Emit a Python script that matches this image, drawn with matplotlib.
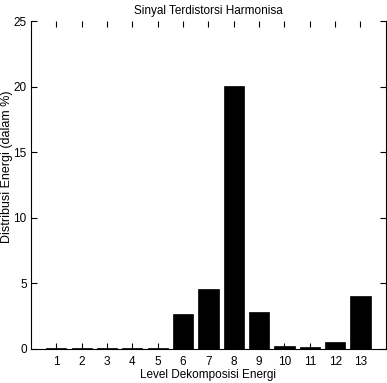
import matplotlib
matplotlib.use('Agg')
import matplotlib.pyplot as plt

# ── Data ────────────────────────────────────────────────────────────────────
levels = list(range(1, 14))
energy = [0.08, 0.08, 0.08, 0.08, 0.08, 2.68, 4.57, 20.05, 2.82,
          0.23, 0.11, 0.56, 4.05]

plt.rcParams['font.family'] = ['Liberation Sans', 'DejaVu Sans']

fig = plt.figure(figsize=(3.87, 3.83), dpi=100)
fig.patch.set_facecolor('white')
ax = fig.add_axes([0.080, 0.089, 0.917, 0.856])

ax.bar(levels, energy, width=0.8, color='black', edgecolor='black', linewidth=0.5)

ax.set_xlim(0, 14)
ax.set_ylim(0, 25)
ax.set_xticks(levels)
ax.set_yticks([0, 5, 10, 15, 20, 25])

ax.tick_params(direction='in', length=4, width=0.8, labelsize=8.5,
               top=True, right=True)
ax.tick_params(axis='x', pad=5)
ax.tick_params(axis='y', pad=3)
for side in ['left', 'right', 'bottom']:
    ax.spines[side].set_linewidth(0.8)
ax.spines['top'].set_visible(False)

ax.set_title('Sinyal Terdistorsi Harmonisa', fontsize=8.5, pad=5)
ax.set_xlabel('Level Dekomposisi Energi', fontsize=8.5, labelpad=1)
ax.set_ylabel('Distribusi Energi (dalam %)', fontsize=9, va='center')
ax.yaxis.set_label_coords(-0.068, 0.555)

plt.savefig('out.png', dpi=100, facecolor='white')
